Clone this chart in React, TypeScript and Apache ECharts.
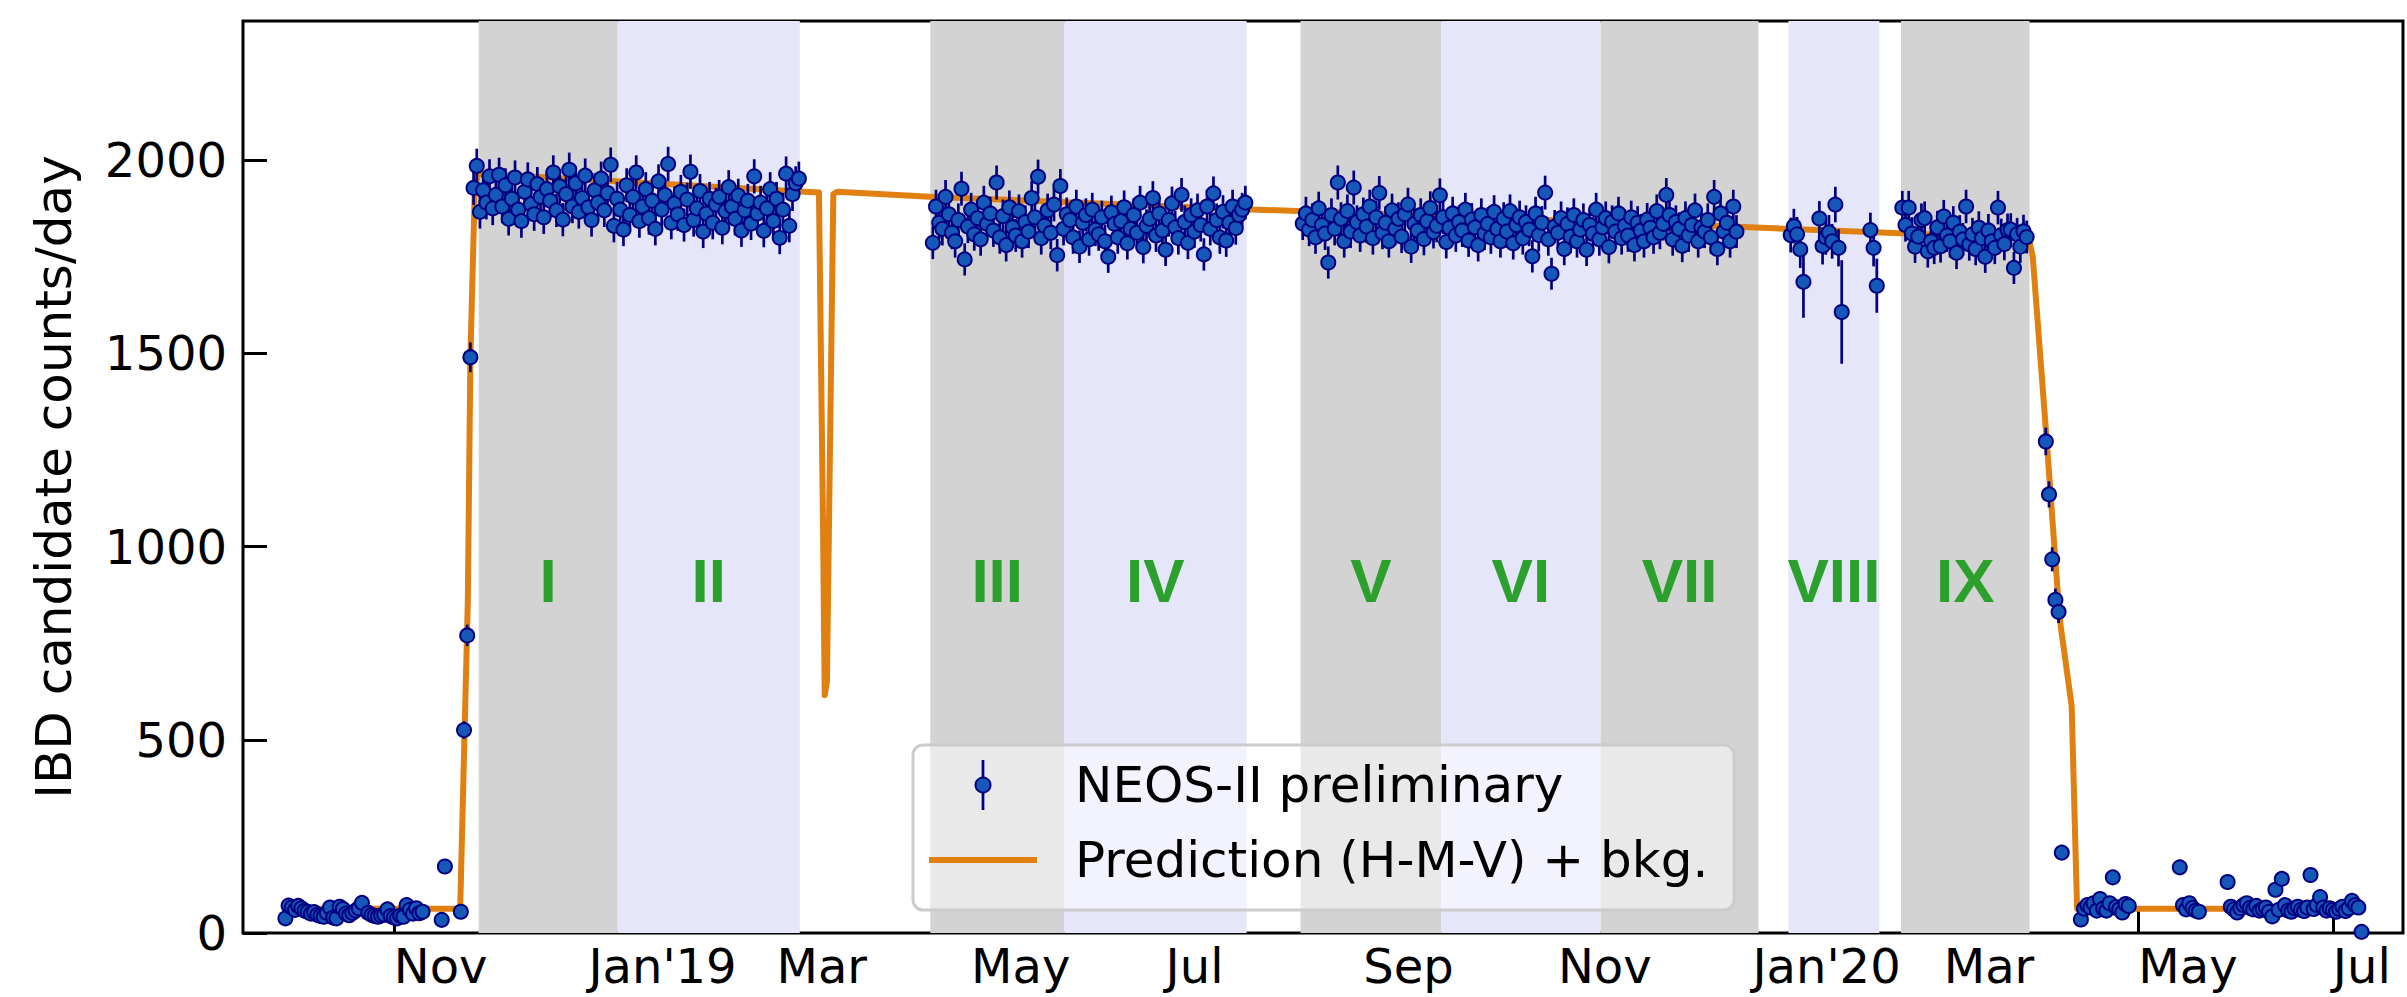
import React, { useEffect, useRef } from "react";
import * as echarts from "echarts";

// x values are days counted from 2018-11-01 (day 0)
const xMin = -47.3;
const xMax = 630;
const yMax = 2360;

const monthTickDays = [0, 61, 120, 181, 242, 304, 365, 426, 486, 547, 608];
const monthTickLabels = ["Nov", "Jan'19", "Mar", "May", "Jul", "Sep", "Nov", "Jan'20", "Mar", "May", "Jul"];
const yTicks = [0, 500, 1000, 1500, 2000];

// reactor-off background period before start-up (days -34 .. 9)
const preStart = -34;
const preCounts = [38, 71, 66, 60, 70, 64, 58, 55, 50, 54, 47, 44, 42, 52, 66, 40, 38, 68, 62, 50, 46, 52, 58, 64, 78, null, 52, 47, 44, 42, 45, 48, 61, 44, 40, 38, 45, 42, 72, 60, 50, 64, 51, 55];

// sparse points around start-up
const rampUpDays = [15, 16, 21, 22, 23, 24];
const rampUpCounts = [34, 172, 55, 525, 770, 1490];

// periods I-II (days 25 .. 127)
const p12Start = 25;
const p12Counts = [
  1928, 1985, 1866, 1922, 1890, 1958, 1875, 1910, 1962, 1880,
  1935, 1848, 1900, 1955, 1872, 1842, 1918, 1950, 1886, 1860,
  1938, 1905, 1852, 1925, 1895, 1968, 1870, 1932, 1846, 1912,
  1975, 1880, 1940, 1866, 1902, 1960, 1878, 1845, 1922, 1890,
  1952, 1870, 1915, 1988, 1830, 1900, 1872, 1820, 1935, 1858,
  1905, 1968, 1842, 1880, 1925, 1850, 1895, 1822, 1945, 1872,
  1910, 1990, 1838, 1888, 1860, 1918, 1832, 1898, 1970, 1845,
  1875, 1920, 1815, 1862, 1900, 1838, 1885, 1905, 1825, 1868,
  1930, 1880, 1848, 1908, 1818, 1870, 1895, 1836, 1958, 1862,
  1890, 1817, 1875, 1925, 1842, 1900, 1799, 1872, 1965, 1830,
  1912, 1940, 1952,
];

// periods III-IV (days 169 .. 267)
const p34Start = 169;
const p34Counts = [
  1786, 1880, 1838, 1822, 1905, 1860, 1812, 1790, 1845, 1926,
  1743, 1828, 1872, 1808, 1850, 1795, 1890, 1835, 1862, 1818,
  1942, 1800, 1855, 1780, 1878, 1826, 1805, 1868, 1790, 1840,
  1815, 1902, 1852, 1957, 1798, 1830, 1870, 1812, 1885, 1754,
  1933, 1822, 1860, 1845, 1800, 1880, 1776, 1838, 1858, 1795,
  1872, 1820, 1808, 1852, 1790, 1750, 1865, 1835, 1800, 1842,
  1878, 1785, 1822, 1858, 1812, 1890, 1775, 1830, 1848, 1902,
  1805, 1862, 1818, 1768, 1845, 1888, 1826, 1798, 1910, 1840,
  1786, 1858, 1815, 1870, 1832, 1756, 1880, 1822, 1914, 1845,
  1800, 1866, 1792, 1838, 1880, 1824, 1858, 1872, 1890,
];

// periods V-VII (days 285 .. 421)
const p57Start = 285;
const p57Counts = [
  1836, 1862, 1820, 1845, 1800, 1875, 1832, 1810, 1735, 1858,
  1822, 1942, 1848, 1790, 1868, 1815, 1929, 1840, 1805, 1860,
  1828, 1880, 1798, 1852, 1915, 1812, 1838, 1790, 1870, 1822,
  1848, 1802, 1860, 1885, 1776, 1835, 1818, 1858, 1796, 1842,
  1876, 1814, 1830, 1909, 1852, 1788, 1825, 1862, 1805, 1840,
  1818, 1872, 1792, 1846, 1826, 1780, 1858, 1810, 1835, 1800,
  1866, 1822, 1790, 1848, 1815, 1868, 1785, 1832, 1852, 1798,
  1840, 1820, 1751, 1862, 1806, 1838, 1916, 1795, 1706, 1828,
  1812, 1850, 1770, 1835, 1802, 1858, 1790, 1820, 1845, 1768,
  1832, 1810, 1872, 1795, 1826, 1850, 1775, 1840, 1815, 1862,
  1798, 1830, 1805, 1852, 1780, 1838, 1818, 1790, 1846, 1825,
  1800, 1868, 1812, 1835, 1910, 1858, 1795, 1840, 1822, 1778,
  1850, 1805, 1832, 1870, 1790, 1826, 1815, 1845, 1800, 1905,
  1770, 1862, 1815, 1838, 1790, 1880, 1815,
];

// period VIII (sparse, some partial days with large errors)
const p8Days = [438, 439, 440, 441, 442, 447, 448, 449, 450, 451, 452, 453, 454, 463, 464, 465];
const p8Counts = [1806, 1829, 1808, 1769, 1685, 1849, 1778, 1800, 1813, 1790, 1885, 1773, 1607, 1819, 1773, 1675];
const p8Errors = [45, 45, 45, 48, 93, 45, 48, 45, 45, 45, 46, 48, 134, 45, 48, 70];

// period IX (days 473 .. 512)
const p9Start = 473;
const p9Counts = [
  1877, 1832, 1877, 1810, 1776, 1802, 1845, 1850, 1764, 1790,
  1773, 1826, 1777, 1854, 1805, 1790, 1838, 1760, 1815, 1795,
  1880, 1782, 1808, 1770, 1825, 1798, 1750, 1818, 1790, 1773,
  1877, 1806, 1783, 1819, 1820, 1721, 1808, 1776, 1816, 1801,
];

// shutdown
const rampDownDays = [518, 519, 520, 521, 522, 523];
const rampDownCounts = [1272, 1135, 967, 862, 831, 208];

// reactor-off after shutdown
const postAStart = 529;
const postACounts = [35, 63, 72, 66, 77, 58, 88, 63, 58, 77, 144, 67, 61, 53, 75, 70];
const postBStart = 560;
const postBCounts = [170, 72, 61, 77, 65, 58, 55];
const postCStart = 575;
const postCCounts = [
  132, 68, 61, 53, 64, 72, 77, 65, 61, 70,
  58, 62, 66, 55, 43, 112, 60, 140, 72, 58,
  55, 64, 68, 60, 57, 66, 150, 62, 72, 93,
  66, 58, 64, 60, 55, 62, 68, 57, 64, 83,
  72, 66, 3,
];

// prediction (H-M-V) + background
const predDays = [-35, 20.8, 22.3, 23.2, 24.0, 25.4, 26.5, 133.3, 134.6, 135.1, 135.8, 137.8, 139, 168, 267, 425, 512.6, 513.9, 518.3, 522.3, 526.1, 527.8, 618];
const predCounts = [63, 63, 560, 860, 1490, 1930, 1965, 1916, 1038, 615, 650, 1912, 1918, 1905, 1873, 1826, 1798, 1750, 1271, 816, 588, 63, 63];

// data-taking periods
const bandNames = ["I", "II", "III", "IV", "V", "VI", "VII", "VIII", "IX"];
const bandStarts = [26.6, 70.2, 168.2, 210.2, 284.3, 328.4, 378.4, 437.3, 472.6];
const bandEnds = [70.2, 127.3, 210.2, 267.4, 328.4, 378.4, 427.9, 465.8, 512.9];
const bandKinds = ["gray", "lav", "gray", "lav", "gray", "lav", "gray", "lav", "gray"];
const bandLabelLevel = 912;

const ORANGE = "#df8010";
const FILL = "#1558b8";
const NAVY = "#000080";
const FONT = "DejaVu Sans";

function buildPoints(): number[][] {
  const pts: number[][] = [];
  const run = (start: number, counts: (number | null)[]) =>
    counts.forEach((v, i) => {
      if (v !== null) pts.push([start + i, v, Math.sqrt(v)]);
    });
  const sparse = (days: number[], counts: number[], errs?: number[]) =>
    days.forEach((d, i) => pts.push([d, counts[i], errs ? errs[i] : Math.sqrt(counts[i])]));
  run(preStart, preCounts);
  sparse(rampUpDays, rampUpCounts);
  run(p12Start, p12Counts);
  run(p34Start, p34Counts);
  run(p57Start, p57Counts);
  sparse(p8Days, p8Counts, p8Errors);
  run(p9Start, p9Counts);
  sparse(rampDownDays, rampDownCounts);
  run(postAStart, postACounts);
  run(postBStart, postBCounts);
  run(postCStart, postCCounts);
  return pts;
}

export default function App() {
  const ref = useRef<HTMLDivElement>(null);
  useEffect(() => {
    if (!ref.current) return;
    const chart = echarts.init(ref.current, null, { renderer: "svg" });
    const points = buildPoints();
    const option: any = {
      animation: false,
      backgroundColor: "#ffffff",
      grid: {
        left: 243,
        top: 21,
        right: 4,
        bottom: 64,
        show: true,
        borderColor: "#000",
        borderWidth: 3,
        backgroundColor: "rgba(0,0,0,0)",
      },
      xAxis: {
        type: "value",
        min: xMin,
        max: xMax,
        axisLine: { show: false, onZero: false },
        splitLine: { show: false },
        axisTick: {
          show: true,
          inside: true,
          length: 24,
          lineStyle: { color: "#000", width: 3 },
          customValues: monthTickDays,
        },
        axisLabel: {
          customValues: monthTickDays,
          formatter: (v: number) => {
            const i = monthTickDays.indexOf(Math.round(v));
            return i >= 0 ? monthTickLabels[i] : "";
          },
          align: "left",
          fontSize: 48,
          fontFamily: FONT,
          color: "#000",
          margin: 9,
        },
      },
      yAxis: {
        type: "value",
        min: 0,
        max: yMax,
        axisLine: { show: false, onZero: false },
        splitLine: { show: false },
        axisTick: {
          show: true,
          inside: true,
          length: 24,
          lineStyle: { color: "#000", width: 3 },
          customValues: yTicks,
        },
        axisLabel: {
          customValues: yTicks,
          formatter: (v: number) => String(Math.round(v)),
          fontSize: 48,
          fontFamily: FONT,
          color: "#000",
          margin: 16,
        },
        name: "IBD candidate counts/day",
        nameLocation: "middle",
        nameGap: 164,
        nameRotate: 90,
        nameTextStyle: { fontSize: 50, fontFamily: FONT, color: "#000" },
      },
      series: [
        {
          type: "custom",
          name: "periods",
          z: 1,
          silent: true,
          encode: { x: [0, 1], y: 2 },
          data: bandStarts.map((s, i) => [s, bandEnds[i], 0]),
          renderItem: (params: any, api: any) => {
            const i = params.dataIndex;
            const p0 = api.coord([api.value(0), yMax]);
            const p1 = api.coord([api.value(1), 0]);
            const ly = api.coord([api.value(0), bandLabelLevel])[1];
            return {
              type: "group",
              children: [
                {
                  type: "rect",
                  shape: { x: p0[0], y: p0[1], width: p1[0] - p0[0], height: p1[1] - p0[1] },
                  style: { fill: bandKinds[i] === "gray" ? "#d3d3d3" : "#e6e6fa" },
                },
                {
                  type: "text",
                  x: (p0[0] + p1[0]) / 2,
                  y: ly,
                  style: {
                    text: bandNames[i],
                    fill: "#2ca02c",
                    fontSize: 62,
                    fontWeight: "bold",
                    fontFamily: "Liberation Sans",
                    align: "center",
                    verticalAlign: "middle",
                  },
                },
              ],
            };
          },
        },
        {
          type: "line",
          name: "Prediction (H-M-V) + bkg.",
          z: 2,
          silent: true,
          showSymbol: false,
          symbol: "none",
          data: predDays.map((d, i) => [d, predCounts[i]]),
          lineStyle: { color: ORANGE, width: 6, join: "round" },
        },
        {
          type: "custom",
          name: "errors",
          z: 3,
          silent: true,
          encode: { x: 0, y: 1 },
          data: points,
          renderItem: (params: any, api: any) => {
            const x = api.value(0);
            const y = api.value(1);
            const e = api.value(2);
            const t = api.coord([x, y + e]);
            const b = api.coord([x, y - e]);
            return {
              type: "line",
              shape: { x1: t[0], y1: t[1], x2: b[0], y2: b[1] },
              style: { stroke: NAVY, lineWidth: 2.7 },
            };
          },
        },
        {
          type: "custom",
          name: "NEOS-II preliminary",
          z: 4,
          silent: true,
          encode: { x: 0, y: 1 },
          data: points,
          renderItem: (params: any, api: any) => {
            const c = api.coord([api.value(0), api.value(1)]);
            return {
              type: "circle",
              shape: { cx: c[0], cy: c[1], r: 7 },
              style: { fill: FILL, stroke: NAVY, lineWidth: 2 },
            };
          },
        },
      ],
      graphic: [
        {
          type: "rect",
          z: 100,
          shape: { x: 913, y: 745, width: 821, height: 165, r: 10 },
          style: { fill: "rgba(255,255,255,0.5)", stroke: "#cccccc", lineWidth: 3 },
        },
        {
          type: "line",
          z: 101,
          shape: { x1: 983, y1: 760, x2: 983, y2: 810 },
          style: { stroke: NAVY, lineWidth: 2.7 },
        },
        {
          type: "circle",
          z: 102,
          shape: { cx: 983, cy: 785, r: 7.5 },
          style: { fill: FILL, stroke: NAVY, lineWidth: 2 },
        },
        {
          type: "line",
          z: 101,
          shape: { x1: 929, y1: 860, x2: 1037, y2: 860 },
          style: { stroke: ORANGE, lineWidth: 6 },
        },
        {
          type: "text",
          z: 101,
          x: 1075,
          y: 785,
          style: {
            text: "NEOS-II preliminary",
            fill: "#000",
            fontSize: 50,
            fontFamily: FONT,
            align: "left",
            verticalAlign: "middle",
          },
        },
        {
          type: "text",
          z: 101,
          x: 1075,
          y: 860,
          style: {
            text: "Prediction (H-M-V) + bkg.",
            fill: "#000",
            fontSize: 50,
            fontFamily: FONT,
            align: "left",
            verticalAlign: "middle",
          },
        },
      ],
    };
    chart.setOption(option);
    return () => chart.dispose();
  }, []);
  return (
    <div
      ref={ref}
      style={{ position: "fixed", left: 0, top: 0, width: "2407px", height: "997px", background: "#fff" }}
    />
  );
}
